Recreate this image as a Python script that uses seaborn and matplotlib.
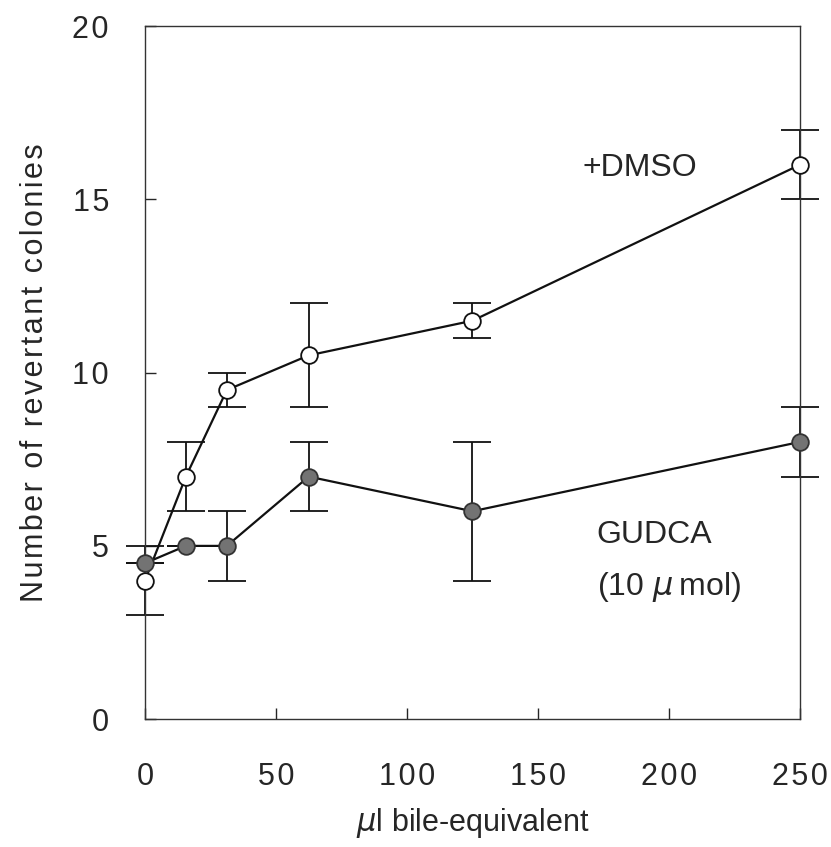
import numpy as np
import pandas as pd
import seaborn as sns
import matplotlib.pyplot as plt

dose = [0, 15.6, 31.25, 62.5, 125, 250]
dmso_mean = [4, 7, 9.5, 10.5, 11.5, 16]
dmso_err = [1, 1, 0.5, 1.5, 0.5, 1]
gudca_mean = [4.5, 5, 5, 7, 6, 8]
gudca_err = [0, 0, 1, 1, 2, 1]

sns.set_style("white")
plt.rcParams['font.family'] = ['Liberation Sans', 'DejaVu Sans']


def spaced(s):
    # the original typesetting has loose letter spacing
    return '\u200a'.join(s)


df = pd.DataFrame({
    'dose': dose * 2,
    'colonies': dmso_mean + gudca_mean,
    'group': ['DMSO'] * len(dose) + ['GUDCA'] * len(dose),
})

fig = plt.figure(figsize=(8.31, 8.47), dpi=100)
ax = fig.add_axes([0.1745, 0.151, 0.788, 0.818])

# error bars first, then lines and markers on top
ax.errorbar(dose, dmso_mean, yerr=dmso_err, fmt='none', ecolor='#111111',
            elinewidth=1.3, capsize=14, capthick=1.3, zorder=2, clip_on=False)
ax.errorbar(dose, gudca_mean, yerr=gudca_err, fmt='none', ecolor='#111111',
            elinewidth=1.3, capsize=14, capthick=1.3, zorder=2, clip_on=False)

sns.lineplot(data=df[df.group == 'DMSO'], x='dose', y='colonies', ax=ax,
             color='#111111', linewidth=1.6, marker='o', markersize=12,
             markerfacecolor='white', markeredgecolor='#111111',
             markeredgewidth=1.3, zorder=3, clip_on=False)
sns.lineplot(data=df[df.group == 'GUDCA'], x='dose', y='colonies', ax=ax,
             color='#111111', linewidth=1.6, marker='o', markersize=12,
             markerfacecolor='#737373', markeredgecolor='#333333',
             markeredgewidth=1.3, zorder=4, clip_on=False)

ax.set_xlim(0, 250)
ax.set_ylim(0, 20)
ax.set_xticks([0, 50, 100, 150, 200, 250])
ax.set_yticks([0, 5, 10, 15, 20])
ax.set_xticklabels([spaced(str(v)) for v in [0, 50, 100, 150, 200, 250]])
ax.set_yticklabels([spaced(str(v)) for v in [0, 5, 10, 15, 20]])
ax.tick_params(direction='in', length=8, width=1, labelsize=22,
               bottom=True, left=True, top=False, right=False)
ax.tick_params(axis='x', pad=31)
ax.tick_params(axis='y', pad=26)
for s in ax.spines.values():
    s.set_color('#333333')
    s.set_linewidth(1)

ax.set_xlabel('$\\mu$l bile-equivalent', fontsize=22, labelpad=10)
ax.set_ylabel(spaced('Number of revertant colonies'), fontsize=22,
              labelpad=16)

ax.text(167, 15.9, '+DMSO', fontsize=23, ha='left', va='center')
ax.text(172.5, 5.3, 'GUDCA', fontsize=23, ha='left', va='center')
ax.text(172.5, 3.8, '(10 $\\mu$\u2009mol)', fontsize=23, ha='left',
        va='center')

fig.savefig('out.png', dpi=100)
